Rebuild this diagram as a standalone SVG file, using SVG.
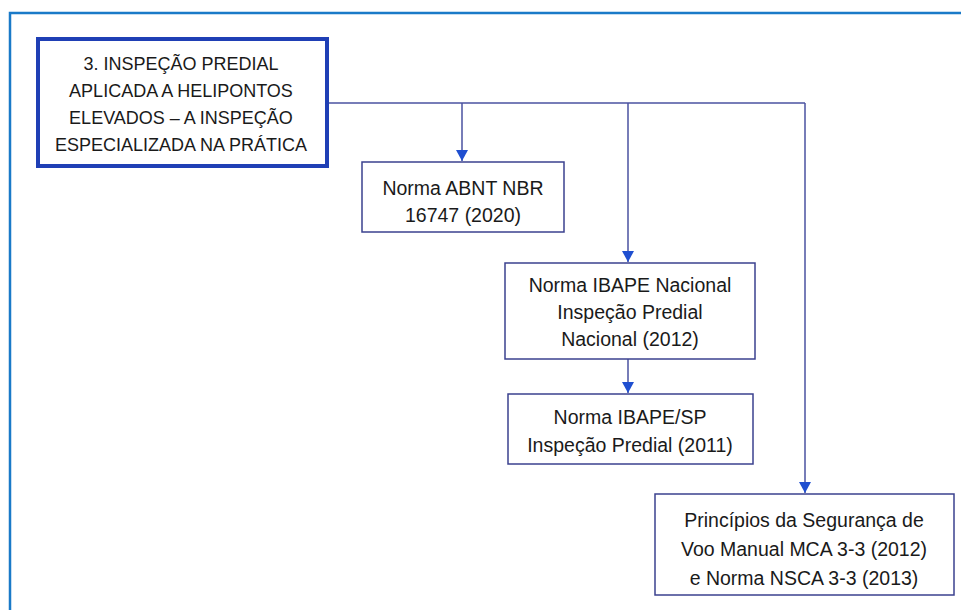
<svg xmlns="http://www.w3.org/2000/svg" width="961" height="610" viewBox="0 0 961 610">
<defs>
<style>
.t{font-family:"Liberation Sans",Arial,sans-serif;font-size:19.5px;fill:#1a1a1a;text-anchor:middle}
.m{font-size:18px}
.box{fill:#fff;stroke:#3b418f;stroke-width:1.5}
.ln{fill:none;stroke:#4a52a0;stroke-width:1.5}
</style>
<marker id="a2" markerWidth="12" markerHeight="11" refX="6" refY="11" markerUnits="userSpaceOnUse" viewBox="0 0 12 11">
<path d="M0,0 L12,0 L6,11 Z" fill="#1f4fd0"/>
</marker>
</defs>
<rect width="961" height="610" fill="#fff"/>
<path d="M10,610 V13 H961" fill="none" stroke="#1a7ac8" stroke-width="2.5"/>
<g id="connectors">
<path class="ln" d="M329,103 H805"/>
<path class="ln" d="M462,103 V161" marker-end="url(#a2)"/>
<path class="ln" d="M628,103 V262" marker-end="url(#a2)"/>
<path class="ln" d="M628,359 V393" marker-end="url(#a2)"/>
<path class="ln" d="M805,103 V493" marker-end="url(#a2)"/>
</g>
<g id="main">
<rect x="38" y="39" width="289" height="127" fill="#fff" stroke="#1f3fb5" stroke-width="4"/>
<text class="t m" x="181" y="70">3. INSPEÇÃO PREDIAL</text>
<text class="t m" x="181" y="97">APLICADA A HELIPONTOS</text>
<text class="t m" x="181" y="124">ELEVADOS – A INSPEÇÃO</text>
<text class="t m" x="181" y="151">ESPECIALIZADA NA PRÁTICA</text>
</g>
<g id="abnt">
<rect class="box" x="362" y="162" width="202" height="70"/>
<text class="t" x="463" y="195">Norma ABNT NBR</text>
<text class="t" x="463" y="222">16747 (2020)</text>
</g>
<g id="ibape-nacional">
<rect class="box" x="505" y="263" width="250" height="96"/>
<text class="t" x="630" y="292">Norma IBAPE Nacional</text>
<text class="t" x="630" y="319">Inspeção Predial</text>
<text class="t" x="630" y="346">Nacional (2012)</text>
</g>
<g id="ibape-sp">
<rect class="box" x="508" y="394" width="245" height="70"/>
<text class="t" x="630" y="424">Norma IBAPE/SP</text>
<text class="t" x="630" y="452">Inspeção Predial (2011)</text>
</g>
<g id="principios">
<rect class="box" x="655" y="494" width="299" height="101"/>
<text class="t" x="804" y="527">Princípios da Segurança de</text>
<text class="t" x="804" y="556">Voo Manual MCA 3-3 (2012)</text>
<text class="t" x="804" y="585">e Norma NSCA 3-3 (2013)</text>
</g>
</svg>
